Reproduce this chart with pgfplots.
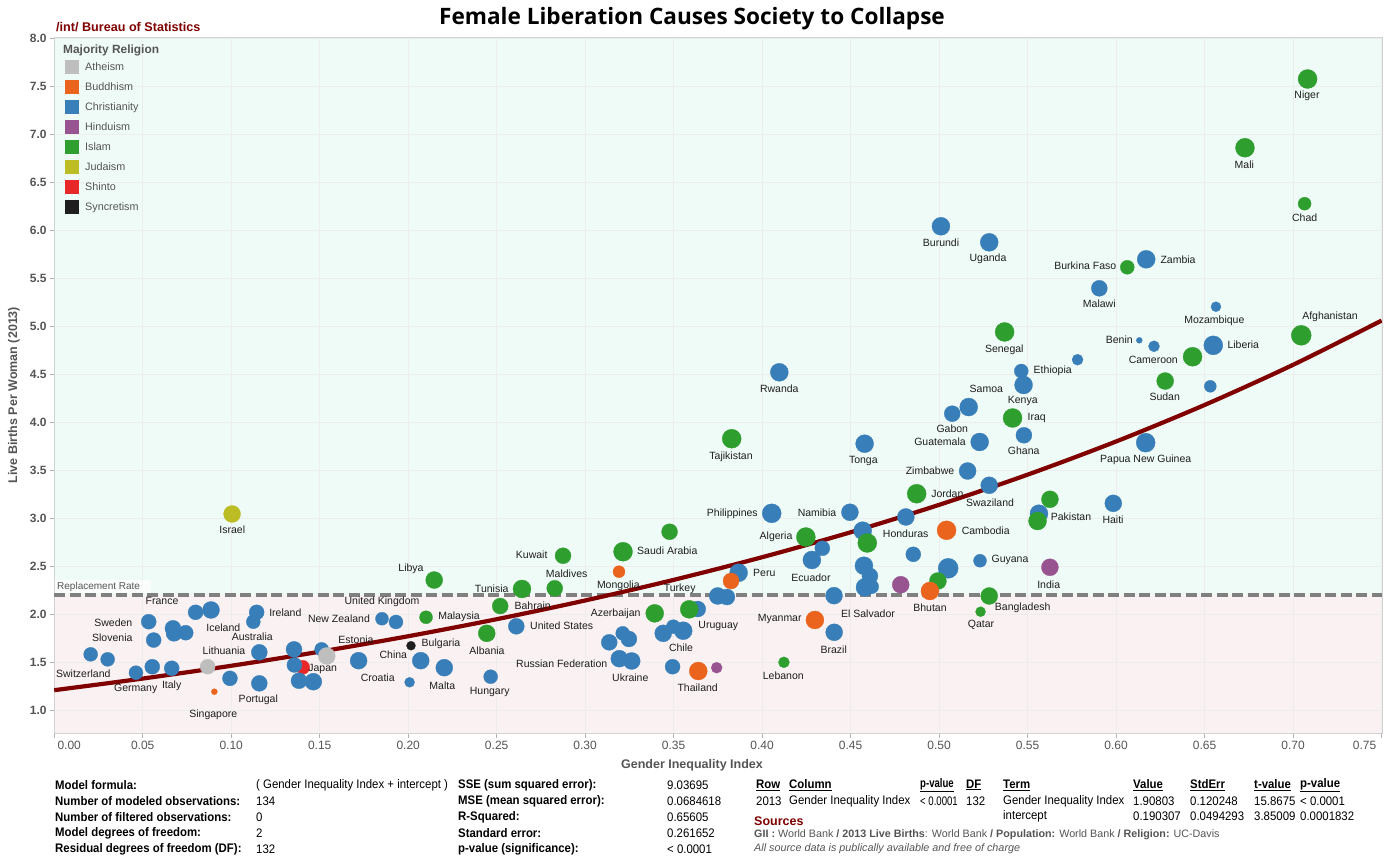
\documentclass[border=0pt]{standalone}
\usepackage{fontspec}
\setmainfont{Liberation Sans}
\newfontfamily\titlefont{Open Sans}
\newfontfamily\nar[FakeStretch=0.92]{Liberation Sans}
\usepackage{graphicx}
\usepackage{pgfplots}
\usepackage{pgfplotstable}
\pgfplotsset{compat=1.18}

\definecolor{cath}{RGB}{190,190,190}
\definecolor{cbud}{RGB}{234,100,30}
\definecolor{cchr}{RGB}{56,126,184}
\definecolor{chin}{RGB}{152,84,144}
\definecolor{cisl}{RGB}{46,158,46}
\definecolor{cjud}{RGB}{188,188,36}
\definecolor{cshi}{RGB}{232,40,40}
\definecolor{csyn}{RGB}{30,30,30}
\definecolor{mint}{RGB}{239,251,247}
\definecolor{pinkbg}{RGB}{250,241,242}
\definecolor{trend}{RGB}{128,0,0}
\definecolor{axgray}{RGB}{85,85,85}
\definecolor{darkred}{RGB}{128,0,0}
\definecolor{labcol}{RGB}{30,30,30}
\definecolor{repgray}{RGB}{128,128,128}

\pgfplotstableread{
x y r
0.0206 1.583 7
0.0302 1.531 7
0.0462 1.392 7
0.0534 1.923 7.5
0.0562 1.732 7.5
0.0554 1.454 7.5
0.0671 1.854 8
0.0677 1.802 8
0.0743 1.808 7.5
0.0664 1.438 7.5
0.0799 2.021 7.5
0.0886 2.045 8.5
0.0993 1.333 7.5
0.1144 2.021 7.5
0.1125 1.923 7
0.1159 1.604 8
0.1159 1.281 8
0.1355 1.635 8
0.1357 1.472 7.5
0.1383 1.308 8
0.1464 1.298 8.5
0.1511 1.635 7
0.1720 1.517 8.5
0.1852 1.954 6.5
0.1931 1.920 7
0.2008 1.292 5
0.2071 1.517 8.5
0.2204 1.444 8.5
0.2466 1.350 7
0.2611 1.875 8
0.3136 1.708 8
0.3212 1.802 7
0.3247 1.743 8
0.3193 1.538 8.5
0.3263 1.514 8.5
0.3441 1.802 8.5
0.3498 1.871 7
0.3554 1.829 9
0.3494 1.454 7.5
0.3636 2.055 8
0.3867 2.433 9
0.3749 2.191 8.5
0.3801 2.180 8
0.4054 3.052 9.5
0.4097 4.521 9
0.4281 2.566 9
0.4340 2.688 7.5
0.4406 2.194 8.5
0.4407 1.813 8.5
0.4496 3.063 8.5
0.4568 2.871 9
0.4575 2.506 9
0.4609 2.399 8
0.4581 2.281 9
0.4619 2.288 7
0.4579 3.777 9
0.4812 3.014 8.5
0.4854 2.625 7.5
0.5010 6.042 9
0.5051 2.479 10
0.5074 4.090 8
0.5167 4.159 9
0.5161 3.493 8.5
0.5229 3.795 9
0.5231 2.558 6.5
0.5283 5.875 9
0.5283 3.344 8.5
0.5464 4.534 7
0.5477 4.389 9
0.5479 3.865 8
0.5564 3.048 9
0.5782 4.652 5.5
0.5905 5.396 8
0.5984 3.156 8.5
0.6131 4.854 3
0.6214 4.792 5.5
0.6167 3.788 9.5
0.6170 5.698 9
0.6532 4.375 6
0.6549 4.802 9.5
0.6564 5.204 5
}\christianity

\pgfplotstableread{
x y r
0.2147 2.357 8.5
0.2101 1.969 6.5
0.2444 1.802 8.5
0.2520 2.086 8
0.2643 2.264 9
0.2828 2.271 8
0.2875 2.610 8
0.3214 2.652 9.5
0.3477 2.860 8
0.3393 2.010 9
0.3588 2.052 9
0.3828 3.829 9.5
0.4123 1.500 5.5
0.4247 2.805 9.5
0.4594 2.743 9.5
0.4873 3.256 9.5
0.4993 2.347 8.5
0.5234 2.027 5
0.5283 2.191 8.5
0.5370 4.941 9.5
0.5415 4.045 9.5
0.5556 2.972 9
0.5626 3.198 8.5
0.6063 5.615 7
0.6277 4.430 8.5
0.6432 4.683 9.5
0.6728 6.860 9.5
0.7046 4.906 10
0.7065 6.277 6.5
0.7082 7.576 9.5
}\islam

\pgfplotstableread{
x y r
0.0905 1.194 3
0.3191 2.444 6
0.3639 1.409 9
0.3824 2.347 8
0.4298 1.941 9
0.4948 2.243 9
0.5042 2.875 9.5
}\buddhism

\pgfplotstableread{
x y r
0.3743 1.444 5.5
0.4783 2.308 8.5
0.5626 2.490 8.5
}\hinduism

\pgfplotstableread{
x y r
0.0867 1.454 7.5
0.1540 1.566 8.5
}\atheism

\pgfplotstableread{
x y r
0.1005 3.045 8.5
}\judaism

\pgfplotstableread{
x y r
0.1404 1.448 7
}\shinto

\pgfplotstableread{
x y r
0.2016 1.673 4.5
}\syncretism

\pgfplotsset{
  bub/.style={only marks, scatter, mark=*, forget plot, color=#1,
    mark options={draw=#1, fill=#1, line width=0.3pt},
    scatter/use mapped color={draw=#1, fill=#1},
    visualization depends on={\thisrow{r}\as\rr},
    scatter/@pre marker code/.append style={/tikz/mark size=\rr}},
  sq/.style={legend image code/.code={%
    \pgfsetfillcolor{#1}\pgfpathrectangle{\pgfpoint{0pt}{-7pt}}{\pgfpoint{14pt}{14pt}}\pgfusepath{fill}}}
}

\newcommand{\labfont}{\fontsize{10.5}{12}\selectfont}
\newcommand{\lab}[3]{\node[font=\labfont, text=labcol, inner sep=0pt] at (#1pt,-#2pt) {#3};}
\newcommand{\stat}{\nar\fontsize{12.4}{14}\selectfont}
\newcommand{\sq}[1]{\scalebox{0.84}[1]{#1}}

\begin{document}
\begin{tikzpicture}
\path[use as bounding box, fill=white] (0pt,0pt) rectangle (1384pt,-855pt);
% background bands
\fill[mint] (54.2pt,-37pt) rectangle (1382pt,-595.1pt);
\fill[pinkbg] (54.2pt,-595.1pt) rectangle (1382pt,-733.5pt);

\begin{axis}[
  at={(54.2pt,-37pt)}, anchor=north west,
  scale only axis, width=1327.8pt, height=696.5pt,
  xmin=0, xmax=0.7502, ymin=0.7583, ymax=8.0135,
  xtick={0,0.05,0.1,0.15,0.2,0.25,0.3,0.35,0.4,0.45,0.5,0.55,0.6,0.65,0.7,0.75},
  xticklabels={\hspace*{30pt}0.00,0.05,0.10,0.15,0.20,0.25,0.30,0.35,0.40,0.45,0.50,0.55,0.60,0.65,0.70,0.75\hspace*{34pt}},
  ytick={1,1.5,2,2.5,3,3.5,4,4.5,5,5.5,6,6.5,7,7.5,8},
  yticklabels={1.0,1.5,2.0,2.5,3.0,3.5,4.0,4.5,5.0,5.5,6.0,6.5,7.0,7.5,8.0},
  xtick pos=bottom, ytick pos=left,
  tick align=outside, major tick length=4pt,
  tick style={color=gray!60, line width=0.6pt},
  grid=major, major grid style={color=gray!14, line width=0.6pt},
  axis line style={color=gray!35, line width=0.6pt},
  x tick label style={font=\fontsize{12}{14}\selectfont, text=axgray},
  y tick label style={font=\bfseries\fontsize{12}{14}\selectfont, text=axgray},
  legend style={at={(0.0081,0.967)}, anchor=north west, draw=none, fill=none,
    font=\fontsize{10.8}{12}\selectfont, text=axgray, row sep=6pt, column sep=6pt,
    inner sep=0pt, nodes={inner sep=0pt}},
  legend cell align=left,
]
\addlegendimage{sq=cath}\addlegendentry{Atheism}
\addlegendimage{sq=cbud}\addlegendentry{Buddhism}
\addlegendimage{sq=cchr}\addlegendentry{Christianity}
\addlegendimage{sq=chin}\addlegendentry{Hinduism}
\addlegendimage{sq=cisl}\addlegendentry{Islam}
\addlegendimage{sq=cjud}\addlegendentry{Judaism}
\addlegendimage{sq=cshi}\addlegendentry{Shinto}
\addlegendimage{sq=csyn}\addlegendentry{Syncretism}

\addplot[bub=cshi] table[x=x,y=y] {\shinto};
\addplot[bub=cchr] table[x=x,y=y] {\christianity};
\addplot[bub=cisl] table[x=x,y=y] {\islam};
\addplot[bub=cbud] table[x=x,y=y] {\buddhism};
\addplot[bub=chin] table[x=x,y=y] {\hinduism};
\addplot[bub=cath] table[x=x,y=y] {\atheism};
\addplot[bub=cjud] table[x=x,y=y] {\judaism};
\addplot[bub=csyn] table[x=x,y=y] {\syncretism};

\addplot[forget plot, color=repgray, line width=3.5pt, dash pattern=on 11pt off 4.5pt]
  coordinates {(0,2.2) (0.7502,2.2)};
\addplot[forget plot, color=trend, line width=4.2pt, smooth] coordinates {
(0,1.2096) (0.05,1.3307) (0.10,1.4639) (0.15,1.6104) (0.20,1.7716) (0.25,1.9490)
(0.30,2.1441) (0.35,2.3587) (0.40,2.5948) (0.45,2.8546) (0.50,3.1403) (0.55,3.4547)
(0.60,3.8005) (0.65,4.1808) (0.70,4.5992) (0.75,5.0597)};
\end{axis}

% legend title and header texts
\node[anchor=west, inner sep=0pt, font=\bfseries\fontsize{11.9}{13}\selectfont, text=axgray] at (63pt,-50pt) {Majority Religion};
\node[anchor=west, inner sep=0pt, font=\bfseries\fontsize{12.6}{14}\selectfont, text=darkred] at (56pt,-27pt) {/int/ Bureau of Statistics};
\node[inner sep=0pt, font=\titlefont\bfseries\fontsize{22.6}{26}\selectfont, text=black] at (692pt,-19pt) {Female Liberation Causes Society to Collapse};
\node[inner sep=0pt, rotate=90, font=\bfseries\fontsize{12.5}{14}\selectfont, text=axgray] at (14pt,-395pt) {Live Births Per Woman (2013)};
\node[inner sep=0pt, font=\bfseries\fontsize{12.5}{14}\selectfont, text=axgray] at (692pt,-765pt) {Gender Inequality Index};

% replacement rate label
\fill[white, opacity=0.7] (54.5pt,-580pt) rectangle (151pt,-593pt);
\node[anchor=west, inner sep=0pt, font=\fontsize{10}{12}\selectfont, text=axgray] at (57pt,-586.5pt) {Replacement Rate};

% country labels
\lab{1307}{96}{Niger}
\lab{1244.3}{165}{Mali}
\lab{1304.7}{218}{Chad}
\lab{941}{243}{Burundi}
\lab{988}{258.3}{Uganda}
\lab{1085.3}{266}{Burkina Faso}
\lab{1178}{259.3}{Zambia}
\lab{1099.3}{304}{Malawi}
\lab{1214.3}{320.3}{Mozambique}
\lab{1330}{317}{Afghanistan}
\lab{1119.3}{339.3}{Benin}
\lab{1153.3}{360.3}{Cameroon}
\lab{1243.3}{345}{Liberia}
\lab{1004.3}{349.3}{Senegal}
\lab{1052.7}{371}{Ethiopia}
\lab{779.3}{389}{Rwanda}
\lab{986.3}{389}{Samoa}
\lab{1022.7}{401}{Kenya}
\lab{1164.7}{397}{Sudan}
\lab{1036.7}{418}{Iraq}
\lab{952.3}{428.7}{Gabon}
\lab{940}{442}{Guatemala}
\lab{731}{456.3}{Tajikistan}
\lab{863.3}{461}{Tonga}
\lab{1023.7}{451}{Ghana}
\lab{1145.7}{460}{Papua New Guinea}
\lab{930}{470.3}{Zimbabwe}
\lab{947.3}{493.3}{Jordan}
\lab{990}{502.3}{Swaziland}
\lab{732.3}{513.3}{Philippines}
\lab{817}{512.3}{Namibia}
\lab{1071}{517}{Pakistan}
\lab{1113}{520}{Haiti}
\lab{232.3}{530}{Israel}
\lab{776}{536.7}{Algeria}
\lab{905.7}{533.7}{Honduras}
\lab{985.7}{530.3}{Cambodia}
\lab{531.7}{555}{Kuwait}
\lab{667.3}{551}{Saudi Arabia}
\lab{411}{568.3}{Libya}
\lab{566.7}{574}{Maldives}
\lab{811}{577.3}{Ecuador}
\lab{1010}{560.3}{Guyana}
\lab{764.3}{572.7}{Peru}
\lab{618.3}{586}{Mongolia}
\lab{491.7}{589}{Tunisia}
\lab{679.7}{588.3}{Turkey}
\lab{1048.7}{584.3}{India}
\lab{162}{601.3}{France}
\lab{382}{601.3}{United Kingdom}
\lab{532.7}{606}{Bahrain}
\lab{930}{608}{Bhutan}
\lab{1022.7}{608}{Bangladesh}
\lab{868}{614}{El Salvador}
\lab{285.3}{612.3}{Ireland}
\lab{113.3}{622.3}{Sweden}
\lab{223.3}{627.3}{Iceland}
\lab{339}{618.3}{New Zealand}
\lab{459}{617}{Malaysia}
\lab{615.7}{613.3}{Azerbaijan}
\lab{779.7}{619}{Myanmar}
\lab{981}{625}{Qatar}
\lab{561.7}{626}{United States}
\lab{718.3}{626}{Uruguay}
\lab{112.3}{637.3}{Slovenia}
\lab{252.3}{636.3}{Australia}
\lab{356}{639.7}{Estonia}
\lab{681}{647.7}{Chile}
\lab{833.7}{650}{Brazil}
\lab{487}{651}{Albania}
\lab{441}{644}{Bulgaria}
\lab{393.3}{654.3}{China}
\lab{224}{651}{Lithuania}
\lab{322.7}{669}{Japan}
\lab{561.7}{664}{Russian Federation}
\lab{630.3}{677.7}{Ukraine}
\lab{83.3}{674}{Switzerland}
\lab{377.7}{678}{Croatia}
\lab{783.3}{676}{Lebanon}
\lab{171.7}{685.7}{Italy}
\lab{442.3}{686}{Malta}
\lab{135.7}{689}{Germany}
\lab{697.7}{688}{Thailand}
\lab{489.7}{692.3}{Hungary}
\lab{258.3}{700}{Portugal}
\lab{213.3}{715}{Singapore}

% bottom statistics
\begin{scope}[every node/.style={anchor=west, inner sep=0pt, text=black}]
\node[font=\stat\bfseries] at (55pt,-785pt) {Model formula:};
\node[font=\stat\bfseries] at (55pt,-801pt) {Number of modeled observations:};
\node[font=\stat\bfseries] at (55pt,-817pt) {Number of filtered observations:};
\node[font=\stat\bfseries] at (55pt,-833pt) {Model degrees of freedom:};
\node[font=\stat\bfseries] at (55pt,-849pt) {Residual degrees of freedom (DF):};
\node[font=\stat] at (256pt,-785pt) {( Gender Inequality Index + intercept )};
\node[font=\stat] at (256pt,-801pt) {134};
\node[font=\stat] at (256pt,-817pt) {0};
\node[font=\stat] at (256pt,-833pt) {2};
\node[font=\stat] at (256pt,-849pt) {132};
\node[font=\stat\bfseries] at (458pt,-785pt) {SSE (sum squared error):};
\node[font=\stat\bfseries] at (458pt,-801pt) {MSE (mean squared error):};
\node[font=\stat\bfseries] at (458pt,-817pt) {R-Squared:};
\node[font=\stat\bfseries] at (458pt,-833pt) {Standard error:};
\node[font=\stat\bfseries] at (458pt,-849pt) {p-value (significance):};
\node[font=\stat] at (667pt,-785pt) {9.03695};
\node[font=\stat] at (667pt,-801pt) {0.0684618};
\node[font=\stat] at (667pt,-817pt) {0.65605};
\node[font=\stat] at (667pt,-833pt) {0.261652};
\node[font=\stat] at (667pt,-849pt) {< 0.0001};
% table
\node[font=\stat\bfseries] at (756pt,-785pt) {\underline{Row}};
\node[font=\stat\bfseries] at (789pt,-785pt) {\underline{Column}};
\node[font=\stat\bfseries] at (920pt,-785pt) {\sq{\underline{p-value}}};
\node[font=\stat\bfseries] at (966pt,-785pt) {\underline{DF}};
\node[font=\stat\bfseries] at (1003pt,-785pt) {\underline{Term}};
\node[font=\stat\bfseries] at (1133pt,-785pt) {\underline{Value}};
\node[font=\stat\bfseries] at (1190pt,-785pt) {\underline{StdErr}};
\node[font=\stat\bfseries] at (1254pt,-785pt) {\underline{t-value}};
\node[font=\stat\bfseries] at (1300pt,-785pt) {\underline{p-value}};
\node[font=\stat] at (756pt,-801pt) {2013};
\node[font=\stat] at (789pt,-801pt) {Gender Inequality Index};
\node[font=\stat] at (920pt,-801pt) {\sq{< 0.0001}};
\node[font=\stat] at (966pt,-801pt) {132};
\node[font=\stat] at (1003pt,-801pt) {Gender Inequality Index};
\node[font=\stat] at (1133pt,-801pt) {1.90803};
\node[font=\stat] at (1190pt,-801pt) {0.120248};
\node[font=\stat] at (1254pt,-801pt) {15.8675};
\node[font=\stat] at (1300pt,-801pt) {< 0.0001};
\node[font=\stat] at (1003pt,-816pt) {intercept};
\node[font=\stat] at (1133pt,-816pt) {0.190307};
\node[font=\stat] at (1190pt,-816pt) {0.0494293};
\node[font=\stat] at (1254pt,-816pt) {3.85009};
\node[font=\stat] at (1300pt,-816pt) {0.0001832};
\node[font=\bfseries\fontsize{12.5}{14}\selectfont, text=darkred] at (754pt,-821pt) {Sources};
\node[font=\fontsize{10.75}{12}\selectfont, text=axgray] at (754pt,-835pt) {\textbf{GII :} World Bank \textbf{/ 2013 Live Births}: World Bank \textbf{/ Population:} World Bank \textbf{/ Religion:} UC-Davis};
\node[font=\itshape\fontsize{10.8}{12}\selectfont, text=axgray] at (754pt,-849pt) {All source data is publically available and free of charge};
\end{scope}
\end{tikzpicture}
\end{document}
